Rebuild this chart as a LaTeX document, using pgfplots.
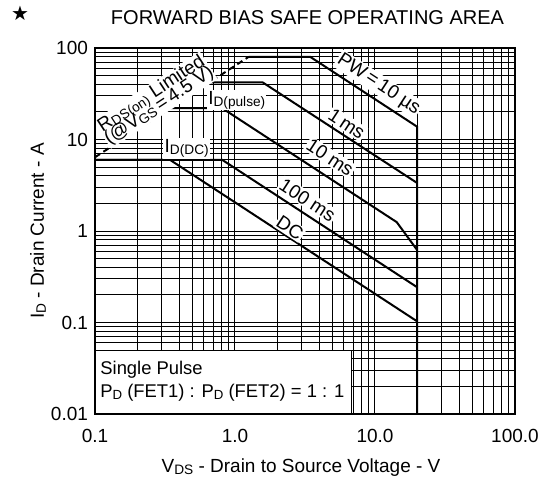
\documentclass[border=0pt]{standalone}
\usepackage{pgfplots}
\pgfplotsset{compat=1.18}
\usepackage{fontspec}
\setmainfont{Liberation Sans}
\newfontfamily\symfont{DejaVu Sans}
\newcommand\sub[1]{\raisebox{-0.2ex}{\scalebox{0.72}{#1}}}

\begin{document}
\begin{tikzpicture}
\begin{loglogaxis}[
    width=210pt, height=183pt, scale only axis,
    xmin=0.1, xmax=100, ymin=0.01, ymax=100,
    xtick={0.1,1,10,100}, xticklabels={0.1,1.0,10.0,100.0},
    ytick={0.01,0.1,1,10,100}, yticklabels={0.01,0.1,1,10,100},
    minor xtick={0.2,0.3,0.4,0.5,0.6,0.7,0.8,0.9,2,3,4,5,6,7,8,9,20,30,40,50,60,70,80,90},
    minor ytick={0.02,0.03,0.04,0.05,0.06,0.07,0.08,0.09,0.2,0.3,0.4,0.5,0.6,0.7,0.8,0.9,2,3,4,5,6,7,8,9,20,30,40,50,60,70,80,90},
    grid=both,
    major grid style={black, line width=0.5pt},
    minor grid style={black, line width=0.5pt},
    major tick length=0pt, minor tick length=0pt,
    axis line style={line width=1pt},
    tick label style={font=\fontsize{9.5}{11}\selectfont},
    xticklabel style={yshift=-4pt},
    clip=false,
]
% R_DS(on) limit
\addplot[black, line width=1pt, dash pattern=on 3pt off 2pt] coordinates {(0.1,6.4) (1.25,80)};
% PW = 10 us (with 20 V limit)
\addplot[black, line width=1pt] coordinates {(1.25,80) (3.45,80) (20,13.8) (20,0.01)};
% 1 ms
\addplot[black, line width=1pt] coordinates {(0.66,42) (1.58,42) (20,3.35)};
% 10 ms
\addplot[black, line width=1pt] coordinates {(0.34,22) (0.81,22) (14.3,1.25) (20,0.62)};
% 100 ms
\addplot[black, line width=1pt] coordinates {(0.1,6) (0.81,6) (20,0.243)};
% DC
\addplot[black, line width=1pt] coordinates {(0.1,6) (0.343,6) (20,0.103)};

\begin{scope}[every node/.style={fill=white, inner sep=0.6pt, font=\fontsize{9.5}{10}\selectfont}]
\node[rotate=-33.2] at (axis cs:10.6,40) {PW\,=\,10 µs};
\node[rotate=-33.2] at (axis cs:6.28,14.8) {1\,ms};
\node[rotate=-33.2] at (axis cs:4.77,6.35) {10 ms};
\node[rotate=-33.2] at (axis cs:3.3,2.18) {100 ms};
\node[rotate=-33.2] at (axis cs:2.47,1.08) {DC};
\node at (axis cs:1.03,27) {I\sub{D(pulse)}};
\node at (axis cs:0.452,8.0) {I\sub{D(DC)}};
\node[rotate=33.2, align=center, inner sep=0.3pt] at (axis cs:0.27,27)
    {R\sub{DS(on)} Limited\\[-3pt](@V\sub{GS}\,=\,4.5 V)};
\end{scope}

% note box
\draw[black, line width=0.5pt, fill=white] (rel axis cs:0,0) rectangle ++(128.4pt,32pt);
\node[anchor=west, inner sep=0pt, font=\fontsize{9.2}{10}\selectfont] at ([shift={(2.5pt,22pt)}]rel axis cs:0,0) {Single Pulse};
\node[anchor=west, inner sep=0pt, font=\fontsize{9.2}{10}\selectfont] at ([shift={(2.5pt,10.5pt)}]rel axis cs:0,0) {P\sub{D} (FET1) : P\sub{D} (FET2) = 1 : 1};
\draw[black, line width=1pt] (rel axis cs:0,0) rectangle (rel axis cs:1,1);
\end{loglogaxis}

\coordinate (O) at (current axis.south west);
\node[font=\fontsize{10}{12}\selectfont] at ([shift={(106.25pt,198pt)}]O) {FORWARD BIAS SAFE OPERATING AREA};
\node[font=\symfont\fontsize{10}{12}\selectfont] at ([shift={(-37.5pt,200.3pt)}]O) {★};
\node[rotate=90, font=\fontsize{9.5}{11}\selectfont] at ([shift={(-28.5pt,91.5pt)}]O) {I\sub{D} - Drain Current - A};
\node[font=\fontsize{9.5}{11}\selectfont] at ([shift={(103pt,-27pt)}]O) {V\sub{DS} - Drain to Source Voltage - V};

\pgfresetboundingbox
\path[use as bounding box] ([shift={(-47.5pt,-34.5pt)}]O) rectangle ([shift={(223.5pt,207pt)}]O);
\end{tikzpicture}
\end{document}
